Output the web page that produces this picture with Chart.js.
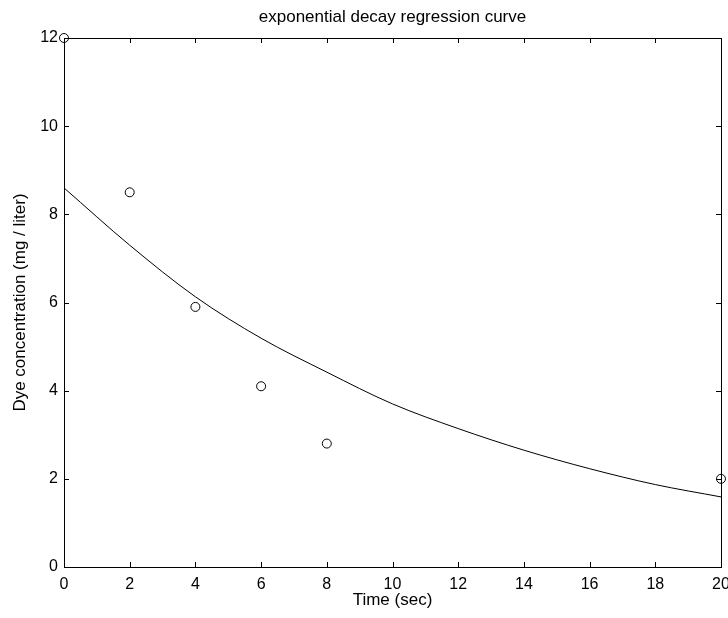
<!DOCTYPE html>
<html>
<head>
<meta charset="utf-8">
<script src="https://cdn.jsdelivr.net/npm/chart.js@4/dist/chart.umd.min.js"></script>
<style>
  html, body { margin:0; padding:0; background:#fff; }
  canvas { display:block; }
</style>
</head>
<body>
<canvas id="ch" width="728" height="618"></canvas>
<script>
// measured samples
const timeSec = [0, 2, 4, 6, 8, 20];
const dyeConc = [12, 8.5, 5.9, 4.1, 2.8, 2.0];

// regression curve
const fitTime = [0, 2, 4, 6, 8, 10, 12, 14, 16, 18, 20];
const fitConc = [8.6, 7.3, 6.13, 5.19, 4.42, 3.70, 3.14, 2.65, 2.23, 1.87, 1.59];

const xTicks = [0, 2, 4, 6, 8, 10, 12, 14, 16, 18, 20];
const yTicks = [0, 2, 4, 6, 8, 10, 12];

const FONT = 'Liberation Sans, Arial, sans-serif';
const INK = '#000';

function pts(xs, ys){ return xs.map((x,i) => ({x, y: ys[i]})); }

// matlab style: inward tick marks on all four sides
const inwardTicks = {
  id: 'inwardTicks',
  afterDatasetsDraw(chart){
    const {ctx, chartArea:a, scales} = chart;
    const len = 5;
    ctx.save();
    ctx.strokeStyle = INK;
    ctx.lineWidth = 1;
    ctx.beginPath();
    for(const v of xTicks){
      const px = Math.round(scales.x.getPixelForValue(v)) + .5;
      ctx.moveTo(px, a.bottom); ctx.lineTo(px, a.bottom - len);
      ctx.moveTo(px, a.top); ctx.lineTo(px, a.top + len);
    }
    for(const v of yTicks){
      const py = Math.round(scales.y.getPixelForValue(v)) + .5;
      ctx.moveTo(a.left, py); ctx.lineTo(a.left + len, py);
      ctx.moveTo(a.right, py); ctx.lineTo(a.right - len, py);
    }
    ctx.stroke();
    ctx.restore();
  }
};

const hidden = { display:false };
const noGrid = { drawOnChartArea:false, drawTicks:false };
// keep edge labels from shrinking the plot box
const noOverflow = s => { s.paddingLeft = 0; s.paddingRight = 0; s.paddingTop = 0; s.paddingBottom = 0; };

new Chart(document.getElementById('ch'), {
  type: 'scatter',
  data: {
    datasets: [
      { label:'fit', data: pts(fitTime, fitConc), showLine:true, borderColor:INK, borderWidth:1,
        pointRadius:0, tension:0.4, cubicInterpolationMode:'monotone', clip:false },
      { label:'data', data: pts(timeSec, dyeConc), showLine:false, borderColor:INK, borderWidth:1,
        backgroundColor:'rgba(0,0,0,0)', pointRadius:4.5, pointStyle:'circle', clip:false }
    ]
  },
  options: {
    responsive:false,
    animation:false,
    layout:{ padding:0 },
    plugins:{ legend:{display:false}, tooltip:{enabled:false} },
    scales:{
      x:{
        type:'linear', position:'bottom', min:0, max:20,
        afterBuildTicks: s => { s.ticks = xTicks.map(v => ({value:v})); },
        afterFit: s => { s.height = 51; noOverflow(s); },
        ticks:{ color:INK, font:{family:FONT, size:16}, padding:8, maxRotation:0 },
        grid: noGrid, border:{ color:INK, width:1 },
        title:{ display:true, text:'Time (sec)', color:INK, font:{family:FONT, size:17}, padding:{top:0, bottom:7} }
      },
      x2:{
        type:'linear', position:'top', min:0, max:20,
        afterFit: s => { s.height = 38; noOverflow(s); },
        ticks: hidden, grid: noGrid, border:{ color:INK, width:1 },
        title:{ display:true, text:'exponential decay regression curve', color:INK, font:{family:FONT, size:17}, padding:{top:7, bottom:0} }
      },
      y:{
        type:'linear', position:'left', min:0, max:12,
        afterBuildTicks: s => { s.ticks = yTicks.map(v => ({value:v})); },
        afterFit: s => { s.width = 64; noOverflow(s); },
        ticks:{ color:INK, font:{family:FONT, size:16}, padding:6 },
        grid: noGrid, border:{ color:INK, width:1 },
        title:{ display:true, text:'Dye concentration (mg / liter)', color:INK, font:{family:FONT, size:17}, padding:{top:10, bottom:0} }
      },
      y2:{
        type:'linear', position:'right', min:0, max:12,
        afterFit: s => { s.width = 7; noOverflow(s); },
        ticks: hidden, grid: noGrid, border:{ color:INK, width:1 }
      }
    }
  },
  plugins:[inwardTicks]
});
</script>
</body>
</html>
